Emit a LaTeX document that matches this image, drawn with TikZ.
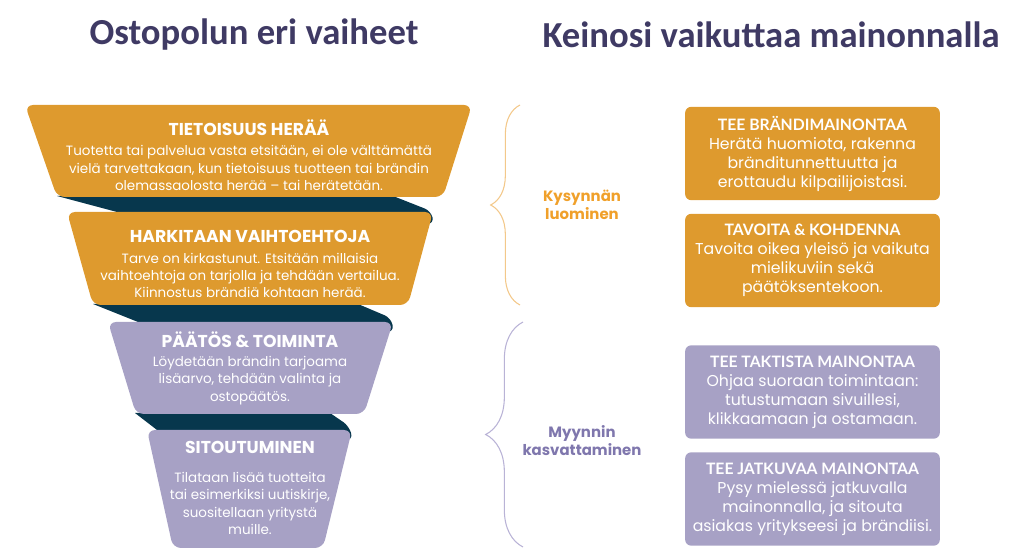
\documentclass[tikz,border=0pt]{standalone}
\usepackage{fontspec}
\setmainfont{Poppins}
\newfontfamily\titlefont{Carlito}
\newfontfamily\headfont{Lato}
\usetikzlibrary{decorations.pathreplacing}

\definecolor{funnelorange}{HTML}{DE9A2E}
\definecolor{funnellilac}{HTML}{A7A1C5}
\definecolor{funneldark}{HTML}{07374D}
\definecolor{titleblue}{HTML}{3F3A64}
\definecolor{labelorange}{HTML}{F0A02A}
\definecolor{labellilac}{HTML}{7F77AD}
\definecolor{braceorange}{HTML}{F3C88A}
\definecolor{bracelilac}{HTML}{B9B3D6}

\newcommand{\boxtitle}[1]{{\headfont\bfseries #1}}

\begin{document}
\begin{tikzpicture}[x=0.75pt,y=-0.75pt,
  stage/.style={rounded corners=6pt},
  band/.style={fill=funneldark},
  stagehead/.style={text=white, font=\bfseries\fontsize{12.9}{15}\selectfont},
  stagetext/.style={text=white, align=center, font=\fontsize{10.1}{13}\selectfont},
  advbox/.style={rounded corners=4.5pt, minimum width=191pt, minimum height=70pt,
    inner sep=0pt, text=white, align=center, font=\fontsize{11.8}{14.25}\selectfont},
  sidelabel/.style={align=center, font=\bfseries\fontsize{11.2}{13.5}\selectfont},
  kbrace/.style={decorate, decoration={brace, amplitude=#1}, line width=0.8pt},
  bigtitle/.style={text=titleblue, font=\titlefont\bfseries\fontsize{27.5}{32}\selectfont}
]
\useasboundingbox (0,0) rectangle (1024,548);

% titles
\node[bigtitle] (lefttitle) at (254,35) {Ostopolun eri vaiheet};
\node[bigtitle] (righttitle) at (771,35) {Keinosi vaikuttaa mainonnalla};

% dark folds behind the funnel
\fill[band] (57,196) -- (393,196) {[rounded corners=5pt] -- (431,211) -- (434,224)} -- (162,224) -- cycle;
\fill[band] (93,304) -- (358,304) {[rounded corners=5pt] -- (391,318) -- (394,332)} -- (163,332) -- cycle;
\fill[band] (135,413) -- (330,413) {[rounded corners=5pt] -- (349,426) -- (353,440)} -- (170,440) -- cycle;

% funnel stages
\fill[stage, funnelorange] (25,105) -- (472,105) -- (443,197) -- (57,197) -- cycle;
\fill[stage, funnelorange] (67,212) -- (433,212) -- (408,305) -- (93,305) -- cycle;
\fill[stage, funnellilac] (108,322) -- (393,322) -- (364,414) -- (136,414) -- cycle;
\fill[stage, funnellilac] (147,430) -- (352,430) -- (323,548) -- (173,548) -- cycle;

\node[stagehead] (awarehead) at (249,128) {TIETOISUUS HERÄÄ};
\node[stagetext] (awaretext) at (249,168) {Tuotetta tai palvelua vasta etsitään, ei ole välttämättä\\
  vielä tarvettakaan, kun tietoisuus tuotteen tai brändin\\
  olemassaolosta herää -- tai herätetään.};
\node[stagehead] (considerhead) at (250,236) {HARKITAAN VAIHTOEHTOJA};
\node[stagetext] (considertext) at (250,275.5) {Tarve on kirkastunut. Etsitään millaisia\\
  vaihtoehtoja on tarjolla ja tehdään vertailua.\\
  Kiinnostus brändiä kohtaan herää.};
\node[stagehead] (decidehead) at (250,340) {PÄÄTÖS \& TOIMINTA};
\node[stagetext] (decidetext) at (250,380.5) {Löydetään brändin tarjoama\\
  lisäarvo, tehdään valinta ja\\ ostopäätös.};
\node[stagehead] (commithead) at (250,447) {SITOUTUMINEN};
\node[stagetext] (committext) at (250,503.5) {Tilataan lisää tuotteita\\
  tai esimerkiksi uutiskirje,\\ suositellaan yritystä\\ muille.};

% braces and their labels
\draw[kbrace=22pt, braceorange] (520,305) -- (520,105);
\draw[kbrace=28pt, bracelilac] (523,547) -- (523,322);
\node[sidelabel, text=labelorange] (demand) at (582,205) {Kysynnän\\ luominen};
\node[sidelabel, text=labellilac] (sales) at (582,441) {Myynnin\\ kasvattaminen};

% advertising boxes
\node[advbox, fill=funnelorange] (brand) at (812.5,153.5) {\boxtitle{TEE BRÄNDIMAINONTAA}\\
  Herätä huomiota, rakenna\\ bränditunnettuutta ja\\ erottaudu kilpailijoistasi.};
\node[advbox, fill=funnelorange] (target) at (812.5,260.5) {\boxtitle{TAVOITA \& KOHDENNA}\\
  Tavoita oikea yleisö ja vaikuta\\ mielikuviin sekä\\ päätöksentekoon.};
\node[advbox, fill=funnellilac] (tactic) at (812.5,392) {\boxtitle{TEE TAKTISTA MAINONTAA}\\
  Ohjaa suoraan toimintaan:\\ tutustumaan sivuillesi,\\ klikkaamaan ja ostamaan.};
\node[advbox, fill=funnellilac] (continuous) at (812.5,499) {\boxtitle{TEE JATKUVAA MAINONTAA}\\
  Pysy mielessä jatkuvalla\\ mainonnalla, ja sitouta\\ asiakas yritykseesi ja brändiisi.};
\end{tikzpicture}
\end{document}
